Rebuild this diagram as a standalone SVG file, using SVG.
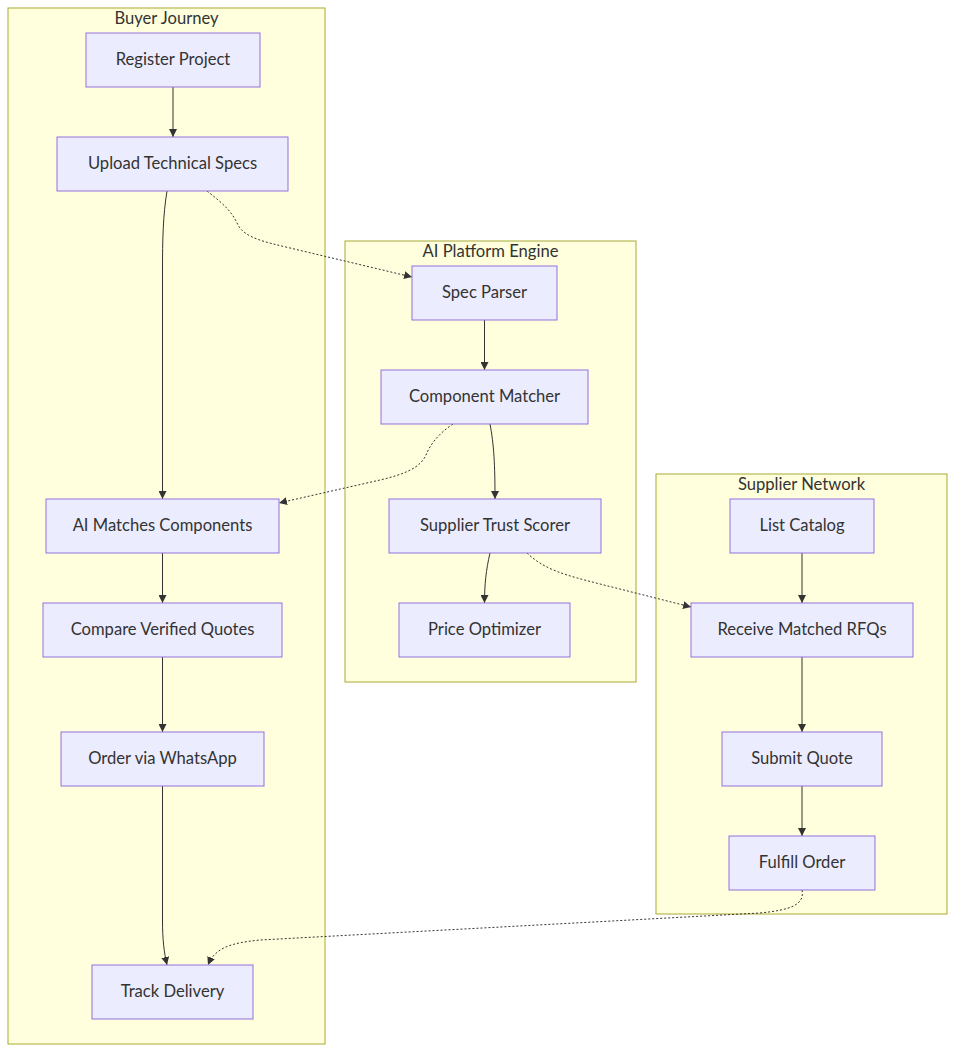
<svg xmlns="http://www.w3.org/2000/svg" width="956" height="1052" viewBox="0 0 956 1052">
<style>
.cl rect{fill:#ffffde;stroke:#aaaa33;stroke-width:1}
.nd rect{fill:#ececff;stroke:#9370db;stroke-width:1}
text{font-family:Lato,"Liberation Sans",sans-serif;font-size:16.6px;fill:#333;text-anchor:middle;dominant-baseline:central}
.e{fill:none;stroke:#333;stroke-width:1;marker-end:url(#ah)}
.d{stroke-dasharray:2 2}
</style>
<defs>
<marker id="ah" viewBox="0 0 10 10" refX="10" refY="5" markerWidth="8" markerHeight="8" orient="auto" markerUnits="userSpaceOnUse">
<path d="M0,0 L10,5 L0,10 z" fill="#333"/>
</marker>
</defs>
<g id="clusters">
<g id="buyer" class="cl"><rect x="8" y="8" width="317" height="1036"/><text x="166.5" y="18">Buyer Journey</text></g>
<g id="ai" class="cl"><rect x="345" y="241" width="291" height="441"/><text x="490.5" y="251">AI Platform Engine</text></g>
<g id="supplier" class="cl"><rect x="656" y="474" width="291" height="440"/><text x="801.5" y="484">Supplier Network</text></g>
</g>
<g id="edges">
<path class="e" d="M173,87 L173,137"/>
<path class="e" d="M167,191 C163,215 162.5,240 162.5,270 L162.5,499"/>
<path class="e d" d="M207,191 C225,205 232,212 238,225 C245,238 265,242 290,248 L412,277"/>
<path class="e" d="M484.5,320 L484.5,370"/>
<path class="e d" d="M453,424 C438,434 430,445 426,455 C420,468 405,474 380,480 L279,503"/>
<path class="e" d="M490,424 C494,445 495,465 495,499"/>
<path class="e" d="M490,553 C486,570 484.5,585 484.5,603"/>
<path class="e d" d="M527,553 C545,570 565,575 600,584 L691,607"/>
<path class="e" d="M162.5,553 L162.5,603"/>
<path class="e" d="M162.5,657 L162.5,732"/>
<path class="e" d="M802,553 L802,603"/>
<path class="e" d="M802,657 L802,732"/>
<path class="e" d="M802,786 L802,836"/>
<path class="e d" d="M802,890 C805,905 790,910 760,913 L260,940 C230,943 215,948 208,965"/>
<path class="e" d="M162.5,786 L162.5,920 C162.5,940 164,952 167,965"/>
</g>
<g id="n1" class="nd"><rect x="86" y="33" width="174" height="54"/><text x="173" y="59">Register Project</text></g>
<g id="n2" class="nd"><rect x="57" y="137" width="231" height="54"/><text x="172.5" y="163">Upload Technical Specs</text></g>
<g id="n3" class="nd"><rect x="46" y="499" width="233" height="54"/><text x="162.5" y="525">AI Matches Components</text></g>
<g id="n4" class="nd"><rect x="43" y="603" width="239" height="54"/><text x="162.5" y="629">Compare Verified Quotes</text></g>
<g id="n5" class="nd"><rect x="61" y="732" width="203" height="54"/><text x="162.5" y="758">Order via WhatsApp</text></g>
<g id="n6" class="nd"><rect x="92" y="965" width="161" height="54"/><text x="172.5" y="991">Track Delivery</text></g>
<g id="a1" class="nd"><rect x="412" y="266" width="145" height="54"/><text x="484.5" y="292">Spec Parser</text></g>
<g id="a2" class="nd"><rect x="381" y="370" width="207" height="54"/><text x="484.5" y="396">Component Matcher</text></g>
<g id="a3" class="nd"><rect x="389" y="499" width="212" height="54"/><text x="495" y="525">Supplier Trust Scorer</text></g>
<g id="a4" class="nd"><rect x="399" y="603" width="171" height="54"/><text x="484.5" y="629">Price Optimizer</text></g>
<g id="s1" class="nd"><rect x="730" y="499" width="144" height="54"/><text x="802" y="525">List Catalog</text></g>
<g id="s2" class="nd"><rect x="691" y="603" width="222" height="54"/><text x="802" y="629">Receive Matched RFQs</text></g>
<g id="s3" class="nd"><rect x="722" y="732" width="160" height="54"/><text x="802" y="758">Submit Quote</text></g>
<g id="s4" class="nd"><rect x="729" y="836" width="146" height="54"/><text x="802" y="862">Fulfill Order</text></g>
</svg>
